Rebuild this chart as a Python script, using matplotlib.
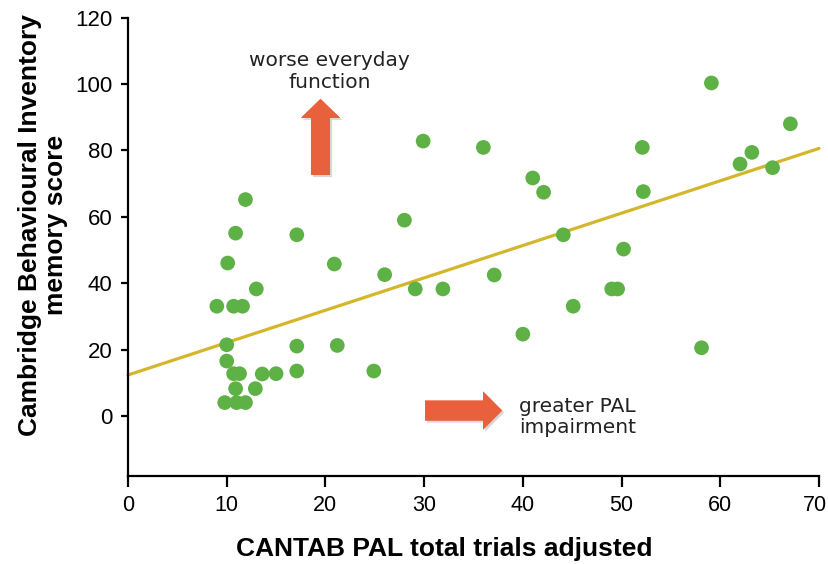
import matplotlib
matplotlib.use("Agg")
import matplotlib.pyplot as plt
from matplotlib.patches import FancyArrow
import matplotlib.patheffects as pe
import matplotlib.transforms as mtransforms

# Data
pal_trials = [9.0, 10.0, 10.0, 10.1, 9.8, 10.7, 10.9, 10.9, 10.7, 11.3, 11.0, 11.6,
              11.9, 11.9, 13.0, 12.9, 13.6, 15.0, 17.1, 17.1, 17.1, 20.9, 21.2, 24.9,
              26.0, 28.0, 29.1, 29.9, 31.9, 36.0, 37.1, 40.0, 41.0, 42.1, 44.1, 45.1,
              49.0, 49.6, 50.2, 52.1, 52.2, 58.1, 59.1, 62.0, 63.2, 65.3, 67.1]
cbi_memory = [33.1, 21.5, 16.6, 46.1, 4.1, 12.8, 8.3, 55.1, 33.1, 12.8, 4.1, 33.1,
              65.2, 4.1, 38.3, 8.3, 12.7, 12.8, 54.6, 21.1, 13.6, 45.8, 21.3, 13.6,
              42.6, 59.0, 38.3, 82.8, 38.3, 80.9, 42.5, 24.7, 71.7, 67.4, 54.6, 33.1,
              38.3, 38.3, 50.3, 80.9, 67.6, 20.6, 100.3, 75.9, 79.4, 74.8, 88.0]
fit_x = [0, 70]
fit_y = [12.4, 80.6]

xticks = [0, 10, 20, 30, 40, 50, 60, 70]
yticks = [0, 20, 40, 60, 80, 100, 120]

fig = plt.figure(figsize=(8.29, 5.64), dpi=100)
ax = fig.add_axes([128/829, 1-476/564, 691/829, 458.5/564])

ax.plot(fit_x, fit_y, color="#D4B62C", lw=2.3, zorder=2, solid_capstyle="round",
        clip_on=False)
ax.scatter(pal_trials, cbi_memory, s=112, color="#5DB145", edgecolors="none",
           zorder=3, clip_on=False)

ax.set_xlim(0, 70)
ax.set_ylim(-18, 120)
ax.set_xticks(xticks)
ax.set_yticks(yticks)

for s in ["top", "right"]:
    ax.spines[s].set_visible(False)
ax.spines["left"].set_linewidth(1.6)
ax.spines["bottom"].set_linewidth(1.6)

tickfont = "Liberation Sans"
ax.tick_params(axis="x", length=8, width=1.6, pad=6, labelsize=15.5)
ax.tick_params(axis="y", length=5, width=1.6, pad=6, labelsize=16)
for lab in ax.get_xticklabels() + ax.get_yticklabels():
    lab.set_fontfamily(tickfont)
# keep the last x tick label inside the canvas
last = ax.get_xticklabels()[-1]
last.set_transform(last.get_transform() +
                   mtransforms.ScaledTranslation(-4/100, 0, fig.dpi_scale_trans))

ax.set_xlabel("CANTAB PAL total trials adjusted", fontsize=19,
              fontweight="bold", fontfamily=tickfont)
ax.xaxis.set_label_coords(0.458, -0.159)
ax.xaxis.label.set_va("center")
ax.set_ylabel("Cambridge Behavioural Inventory\nmemory score", fontsize=19,
              fontweight="bold", fontfamily=tickfont, linespacing=1.1)
ax.yaxis.set_label_coords(-0.123, 0.547)
ax.yaxis.label.set_va("center")

arrow_color = "#E8603C"
shadow = [pe.withSimplePatchShadow(offset=(1.5, -1.5), shadow_rgbFace="gray", alpha=0.3),
          pe.Normal()]
up = FancyArrow(19.5, 72.6, 0, 95.5 - 72.6, width=1.93, head_width=3.95,
                head_length=5.7, length_includes_head=True, color=arrow_color,
                lw=0, zorder=4)
up.set_path_effects(shadow)
ax.add_patch(up)
right = FancyArrow(30.1, 1.7, 37.9 - 30.1, 0, width=6.0, head_width=11.5,
                   head_length=1.93, length_includes_head=True, color=arrow_color,
                   lw=0, zorder=4)
right.set_path_effects(shadow)
ax.add_patch(right)

ax.text(20.4, 103.8, "worse everyday\nfunction", ha="center", va="center",
        fontsize=14.5, fontfamily="DejaVu Sans", color="#222222", linespacing=1.17)
ax.text(39.6, -0.2, "greater PAL\nimpairment", ha="left", va="center",
        fontsize=14.5, fontfamily="DejaVu Sans", color="#222222", linespacing=1.17)

fig.savefig("out.png", dpi=100)
